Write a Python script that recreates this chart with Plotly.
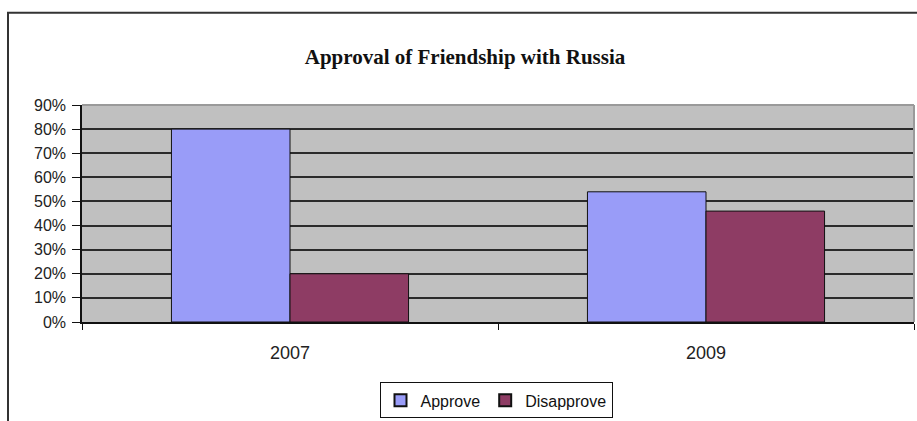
import plotly.graph_objects as go

years = ["2007", "2009"]
approve = [0.80, 0.54]
disapprove = [0.20, 0.46]
y_ticks = [0, 0.1, 0.2, 0.3, 0.4, 0.5, 0.6, 0.7, 0.8, 0.9]

W, H = 917, 421
L, R, T, B = 82, 3, 105, 97
pw = W - L - R
ph = H - T - B

def px_x(p):
    return (p - L) / pw

def px_y(p):
    return (H - B - p) / ph

fig = go.Figure()
fig.add_trace(go.Bar(name="Approve", x=years, y=approve,
                     marker=dict(color="#999CF8", line=dict(color="#111111", width=1))))
fig.add_trace(go.Bar(name="Disapprove", x=years, y=disapprove,
                     marker=dict(color="#8E3C64", line=dict(color="#111111", width=1))))

fig.update_layout(
    width=W, height=H,
    margin=dict(l=L, r=R, t=T, b=B),
    paper_bgcolor="white",
    plot_bgcolor="#C0C0C0",
    barmode="group",
    bargap=0.43,
    bargroupgap=0,
    title=dict(text="<b>Approval of Friendship with Russia</b>",
               font=dict(family="Liberation Serif", size=21, color="#111111"),
               x=px_x(465), xref="paper", xanchor="center",
               y=1 - 57 / H, yref="container", yanchor="middle"),
    font=dict(family="Liberation Sans", size=16, color="#111111"),
    legend=dict(orientation="h", x=px_x(496), xanchor="center",
                y=px_y(385), yanchor="top",
                bordercolor="#111111", borderwidth=1,
                font=dict(size=16, family="Liberation Sans", color="#111111"),
                itemwidth=30, tracegroupgap=0,
                itemsizing="constant"),
    showlegend=True,
)

fig.update_yaxes(range=[0, 0.9], tickvals=y_ticks, tickformat=".0%",
                 showgrid=True, gridcolor="#2a2a2a", gridwidth=2,
                 showline=True, linecolor="#111111", linewidth=1.5,
                 ticks="outside", ticklen=8, tickcolor="#111111",
                 ticklabelstandoff=3,
                 tickfont=dict(size=16, family="Liberation Sans", color="#222222"),
                 zeroline=False, fixedrange=True)
fig.update_xaxes(type="category", showgrid=False,
                 showline=True, linecolor="#111111", linewidth=1.5,
                 ticks="outside", tickson="boundaries", ticklen=6, tickcolor="#111111",
                 ticklabelstandoff=14,
                 tickfont=dict(size=18, family="Liberation Sans", color="#222222"),
                 fixedrange=True)

# plot-area top/right grey border
fig.add_shape(type="line", xref="paper", yref="paper", x0=0, x1=1, y0=1, y1=1,
              line=dict(color="#9a9a9a", width=2), layer="above")
fig.add_shape(type="line", xref="paper", yref="paper", x0=1, x1=1, y0=0, y1=1,
              line=dict(color="#9a9a9a", width=2), layer="above")

# outer chart border
fig.add_shape(type="rect", xref="paper", yref="paper",
              x0=px_x(8), x1=px_x(940), y0=px_y(460), y1=px_y(12),
              line=dict(color="#333333", width=2), fillcolor="rgba(0,0,0,0)", layer="below")

fig.write_html("out.html")
